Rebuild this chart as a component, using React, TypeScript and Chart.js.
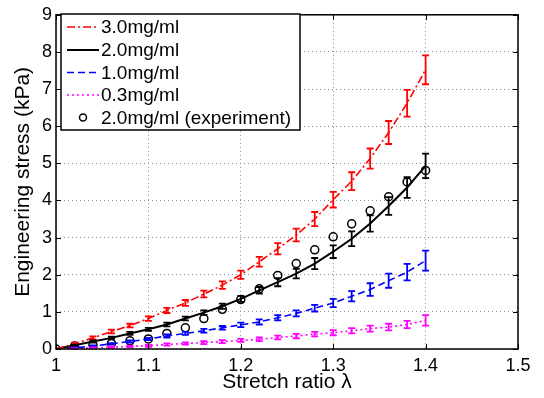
import React, { useEffect, useRef } from "react";
import { Chart, registerables } from "chart.js";

Chart.register(...registerables);

const lambda = [1.0, 1.02, 1.04, 1.06, 1.08, 1.1, 1.12, 1.14, 1.16, 1.18, 1.2, 1.22, 1.24, 1.26, 1.28, 1.3, 1.32, 1.34, 1.36, 1.38, 1.4];

const stress30 = [0, 0.14, 0.3, 0.47, 0.63, 0.82, 1.04, 1.24, 1.48, 1.72, 2.0, 2.35, 2.7, 3.07, 3.5, 4.02, 4.52, 5.13, 5.83, 6.62, 7.52];
const err30 = [0, 0.03, 0.04, 0.05, 0.05, 0.06, 0.07, 0.08, 0.09, 0.1, 0.11, 0.13, 0.15, 0.17, 0.19, 0.21, 0.24, 0.27, 0.31, 0.36, 0.39];

const stress20 = [0, 0.1, 0.2, 0.3, 0.42, 0.53, 0.66, 0.82, 0.98, 1.15, 1.35, 1.58, 1.8, 2.03, 2.3, 2.62, 2.97, 3.38, 3.85, 4.35, 4.93];
const err20 = [0, 0.02, 0.03, 0.03, 0.04, 0.04, 0.05, 0.05, 0.06, 0.07, 0.08, 0.09, 0.11, 0.13, 0.15, 0.17, 0.2, 0.22, 0.24, 0.28, 0.33];

const stress10 = [0, 0.03, 0.08, 0.14, 0.2, 0.27, 0.35, 0.42, 0.49, 0.57, 0.65, 0.73, 0.84, 0.96, 1.1, 1.24, 1.42, 1.6, 1.84, 2.07, 2.38];
const err10 = [0, 0.01, 0.02, 0.02, 0.03, 0.03, 0.04, 0.04, 0.05, 0.05, 0.06, 0.07, 0.07, 0.08, 0.09, 0.11, 0.14, 0.17, 0.19, 0.22, 0.27];

const stress03 = [0, 0.01, 0.03, 0.05, 0.07, 0.09, 0.12, 0.15, 0.17, 0.2, 0.23, 0.26, 0.31, 0.35, 0.4, 0.44, 0.49, 0.55, 0.59, 0.66, 0.77];
const err03 = [0, 0.01, 0.01, 0.02, 0.02, 0.03, 0.03, 0.03, 0.04, 0.04, 0.04, 0.05, 0.05, 0.06, 0.06, 0.07, 0.07, 0.08, 0.09, 0.1, 0.14];

const stressExp = [0, 0.08, 0.11, 0.15, 0.22, 0.27, 0.42, 0.57, 0.82, 1.07, 1.33, 1.62, 1.98, 2.3, 2.67, 3.02, 3.37, 3.72, 4.1, 4.5, 4.81];

const seriesLabels = ["3.0mg/ml", "2.0mg/ml", "1.0mg/ml", "0.3mg/ml", "2.0mg/ml (experiment)"];
const xTicks = [1, 1.1, 1.2, 1.3, 1.4, 1.5];
const yTicks = [0, 1, 2, 3, 4, 5, 6, 7, 8, 9];

const FONT = "'Liberation Sans', Arial, Helvetica, sans-serif";

const lineSeries = [
  { label: seriesLabels[0], vals: stress30, err: err30, color: "#ff0000", dash: [8, 3, 2, 3], width: 1.6 },
  { label: seriesLabels[1], vals: stress20, err: err20, color: "#000000", dash: [] as number[], width: 2 },
  { label: seriesLabels[2], vals: stress10, err: err10, color: "#0000ff", dash: [7, 4], width: 1.6 },
  { label: seriesLabels[3], vals: stress03, err: err03, color: "#ff00ff", dash: [2, 3], width: 1.6 },
];

const overlayPlugin = {
  id: "overlay",
  afterDatasetsDraw(chart: any) {
    const { ctx, scales } = chart;
    const x = scales.x;
    const y = scales.y;
    ctx.save();
    ctx.setLineDash([]);
    lineSeries.forEach((s) => {
      ctx.strokeStyle = s.color;
      ctx.lineWidth = 1.8;
      lambda.forEach((l, i) => {
        const e = s.err[i];
        if (!e) return;
        const px = x.getPixelForValue(l);
        const top = y.getPixelForValue(s.vals[i] + e);
        const bot = y.getPixelForValue(s.vals[i] - e);
        ctx.beginPath();
        ctx.moveTo(px, top);
        ctx.lineTo(px, bot);
        ctx.moveTo(px - 3.5, top);
        ctx.lineTo(px + 3.5, top);
        ctx.moveTo(px - 3.5, bot);
        ctx.lineTo(px + 3.5, bot);
        ctx.stroke();
      });
    });
    ctx.restore();
  },
  afterDraw(chart: any) {
    const { ctx, chartArea: a, scales } = chart;
    const x = scales.x;
    const y = scales.y;
    ctx.save();
    ctx.setLineDash([]);
    ctx.strokeStyle = "#000";
    ctx.lineWidth = 1.5;
    ctx.strokeRect(a.left, a.top, a.right - a.left, a.bottom - a.top);
    ctx.lineWidth = 1;
    ctx.beginPath();
    xTicks.forEach((t) => {
      const px = Math.round(x.getPixelForValue(t)) + 0.5;
      ctx.moveTo(px, a.bottom);
      ctx.lineTo(px, a.bottom - 5);
      ctx.moveTo(px, a.top);
      ctx.lineTo(px, a.top + 5);
    });
    yTicks.forEach((t) => {
      const py = Math.round(y.getPixelForValue(t)) + 0.5;
      ctx.moveTo(a.left, py);
      ctx.lineTo(a.left + 5, py);
      ctx.moveTo(a.right, py);
      ctx.lineTo(a.right - 5, py);
    });
    ctx.stroke();

    // legend
    const bx = 61, by = 14, bw = 239, bh = 116;
    ctx.fillStyle = "#fff";
    ctx.fillRect(bx, by, bw, bh);
    ctx.strokeStyle = "#000";
    ctx.lineWidth = 1.5;
    ctx.strokeRect(bx, by, bw, bh);
    const rows = [27, 50, 72.5, 95, 117.5];
    ctx.font = `19px ${FONT}`;
    ctx.textBaseline = "middle";
    ctx.textAlign = "left";
    lineSeries.forEach((s, i) => {
      ctx.strokeStyle = s.color;
      ctx.lineWidth = s.width;
      ctx.setLineDash(s.dash);
      ctx.beginPath();
      ctx.moveTo(67, rows[i]);
      ctx.lineTo(99, rows[i]);
      ctx.stroke();
      ctx.fillStyle = "#000";
      ctx.fillText(s.label, 101, rows[i] + 1);
    });
    ctx.setLineDash([]);
    ctx.strokeStyle = "#000";
    ctx.lineWidth = 1.5;
    ctx.beginPath();
    ctx.arc(83, rows[4], 3.5, 0, Math.PI * 2);
    ctx.stroke();
    ctx.fillStyle = "#000";
    ctx.fillText(seriesLabels[4], 101, rows[4] + 1);
    ctx.restore();
  },
};

export default function App() {
  const ref = useRef<HTMLCanvasElement | null>(null);
  useEffect(() => {
    if (!ref.current) return;
    const datasets: any[] = lineSeries.map((s) => ({
      label: s.label,
      data: lambda.map((l, i) => ({ x: l, y: s.vals[i] })),
      borderColor: s.color,
      backgroundColor: s.color,
      borderWidth: s.width,
      borderDash: s.dash,
      showLine: true,
      pointRadius: 0,
      tension: 0,
    }));
    datasets.push({
      label: seriesLabels[4],
      data: lambda.map((l, i) => ({ x: l, y: stressExp[i] })),
      borderColor: "#000",
      backgroundColor: "rgba(0,0,0,0)",
      borderWidth: 1.5,
      showLine: false,
      pointRadius: 4,
      pointStyle: "circle",
    });
    const chart = new Chart(ref.current, {
      type: "scatter",
      data: { datasets },
      plugins: [overlayPlugin],
      options: {
        animation: false,
        responsive: false,
        layout: { padding: { top: 9, right: 26, left: 0, bottom: 0 } },
        plugins: { legend: { display: false }, tooltip: { enabled: false } },
        scales: {
          x: {
            type: "linear",
            min: 1,
            max: 1.5,
            afterBuildTicks: (s: any) => {
              s.ticks = xTicks.map((v) => ({ value: v }));
            },
            afterFit: (s: any) => {
              s.height = 49;
            },
            ticks: {
              color: "#000",
              font: { family: FONT, size: 18 },
              padding: 6,
              maxRotation: 0,
              callback: (v: any) => Number(Number(v).toFixed(1)).toString(),
            },
            grid: {
              drawTicks: false,
              color: "#8a8a8a",
              lineWidth: 1,
            },
            border: { display: false, dash: [1, 3] },
            title: {
              display: true,
              text: "Stretch ratio λ",
              color: "#000",
              font: { family: FONT, size: 21 },
              padding: { top: 0, bottom: 3 },
            },
          },
          y: {
            type: "linear",
            min: 0,
            max: 9,
            afterBuildTicks: (s: any) => {
              s.ticks = yTicks.map((v) => ({ value: v }));
            },
            afterFit: (s: any) => {
              s.width = 56;
            },
            ticks: {
              color: "#000",
              font: { family: FONT, size: 18 },
              padding: 4,
            },
            grid: {
              drawTicks: false,
              color: "#8a8a8a",
              lineWidth: 1,
            },
            border: { display: false, dash: [1, 3] },
            title: {
              display: true,
              text: "Engineering stress (kPa)",
              color: "#000",
              font: { family: FONT, size: 21 },
              padding: { top: 11, bottom: 0 },
            },
          },
        },
      },
    });
    return () => chart.destroy();
  }, []);
  return (
    <div style={{ position: "fixed", left: 0, top: 0, width: 544, height: 398, background: "#fff" }}>
      <canvas ref={ref} width={544} height={398} style={{ display: "block" }} />
    </div>
  );
}
